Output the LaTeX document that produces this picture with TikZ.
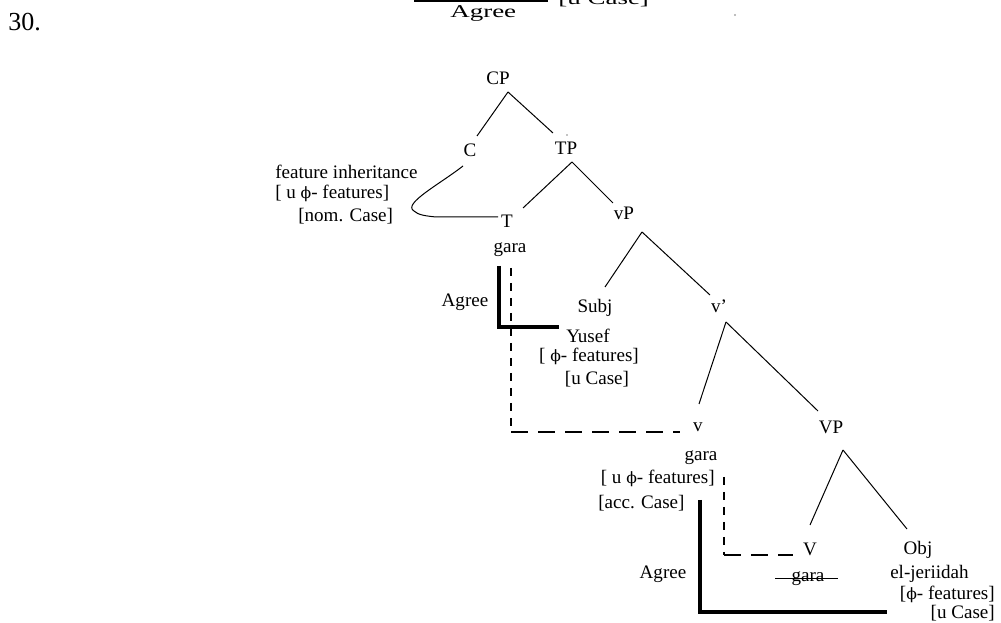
\documentclass[tikz,border=0pt]{standalone}
\usepackage{fontspec}
\setmainfont{Liberation Serif}
\newfontfamily\phifont{DejaVu Serif}[Scale=0.82]
\newcommand{\fph}{{\phifont ϕ}}
\begin{document}
\begin{tikzpicture}[x=0.75pt,y=-0.75pt,
  lbl/.style={inner sep=0pt, font=\fontsize{14.3pt}{17pt}\selectfont},
  wide/.style={inner sep=0pt, font=\fontsize{13.5pt}{16pt}\selectfont},
  branch/.style={line width=0.75pt},
  agreeline/.style={line width=2.5pt},
  chainv/.style={line width=0.8pt, dash pattern=on 6pt off 5.25pt},
  chainh/.style={line width=0.8pt, dash pattern=on 12.75pt off 7.5pt}]
\useasboundingbox (0,0) rectangle (1001,623);
\clip (0,0) rectangle (1001,623);

% example number and the tail of the preceding figure
\node[inner sep=0pt, anchor=base west, font=\fontsize{19.5pt}{22pt}\selectfont] (num) at (8,31) {30.};
\node[wide, anchor=base west] (agreeTop) at (450,18) {\scalebox{1.5}[1]{Agree}};
\node[wide, anchor=base west] (caseTop) at (558,5) {\scalebox{1.5}[1]{[u Case]}};
\coordinate (topA) at (415,-3);
\coordinate (topB) at (548,1);
\draw[line width=1pt] (topA) |- (topB);
\fill[gray!70] (735,15) circle (1.1);

% tree labels
\node[lbl, anchor=base] (CP) at (498,85) {CP};
\node[lbl, anchor=base] (C) at (470,157) {C};
\node[lbl, anchor=base] (TP) at (566,155) {TP};
\node[lbl, anchor=base west] (finh) at (275,179) {feature inheritance};
\node[lbl, anchor=base west] (cfeat) at (275,199) {[ u \fph- features]};
\node[lbl, anchor=base west] (ccase) at (298,222) {[nom. Case]};
\node[lbl, anchor=base] (T) at (507,228) {T};
\node[lbl, anchor=base] (Tgara) at (510,253) {gara};
\node[lbl, anchor=base] (vP) at (624,220) {vP};
\node[lbl, anchor=base] (agree1) at (465,307) {Agree};
\node[lbl, anchor=base] (Subj) at (595,313) {Subj};
\node[lbl, anchor=base] (vbar) at (719,313) {v'};
\node[lbl, anchor=base] (Yusef) at (588,343) {Yusef};
\node[lbl, anchor=base] (sfeat) at (589,362) {[ \fph- features]};
\node[lbl, anchor=base] (scase) at (597,385) {[u Case]};
\node[lbl, anchor=base] (v) at (698,432) {v};
\node[lbl, anchor=base] (VP) at (831,434) {VP};
\node[lbl, anchor=base] (vgara) at (701,461) {gara};
\node[lbl, anchor=base east] (vfeat) at (715,484) {[ u \fph- features]};
\node[lbl, anchor=base west] (vcase) at (598,509) {[acc. Case]};
\node[lbl, anchor=base] (V) at (810,556) {V};
\node[lbl, anchor=base] (Obj) at (918,555) {Obj};
\node[lbl, anchor=base] (agree2) at (663,579) {Agree};
\node[lbl, anchor=base] (Vgara) at (808,582) {gara};
\node[lbl, anchor=base west] (objn) at (890,579) {el-jeriidah};
\node[lbl, anchor=base east] (ofeat) at (995,600) {[\fph- features]};
\node[lbl, anchor=base east] (ocase) at (995,619) {[u Case]};

% branch points
\coordinate (CPb) at (508,92);
\coordinate (Ct) at (477,136);
\coordinate (TPt) at (553,133);
\coordinate (TPb) at (572,162);
\coordinate (Tt) at (523,208);
\coordinate (vPt) at (613,203);
\coordinate (vPb) at (642,232);
\coordinate (Subjt) at (605,287);
\coordinate (vbart) at (710,295);
\coordinate (vbarb) at (726,322);
\coordinate (vt) at (699,404);
\coordinate (VPt) at (818,411);
\coordinate (VPb) at (843,450);
\coordinate (Vt) at (810,525);
\coordinate (Objt) at (907,529);
\fill (567,135) circle (0.7);

\draw[branch] (CPb) -- (Ct);
\draw[branch] (CPb) -- (TPt);
\draw[branch] (TPb) -- (Tt);
\draw[branch] (TPb) -- (vPt);
\draw[branch] (vPb) -- (Subjt);
\draw[branch] (vPb) -- (vbart);
\draw[branch] (vbarb) -- (vt);
\draw[branch] (vbarb) -- (VPt);
\draw[branch] (VPb) -- (Vt);
\draw[branch] (VPb) -- (Objt);

% feature inheritance from C to T
\coordinate (inhS) at (463,166);
\coordinate (inhE) at (498,217);
\draw[branch] (inhS) .. controls (440,184) and (402,204) .. (414,211)
  .. controls (418,215) and (426,216) .. (436,217) -- (inhE);

% Agree relations
\coordinate (ag1a) at (499,266);
\coordinate (ag1c) at (499,327);
\coordinate (ag1b) at (559,327);
\draw[agreeline] (ag1a) -- (ag1c) -- (ag1b);
\coordinate (ag2a) at (700,500);
\coordinate (ag2c) at (700,612);
\coordinate (ag2b) at (887,612);
\draw[agreeline] (ag2a) -- (ag2c) -- (ag2b);

% head movement chains
\coordinate (ch1a) at (511,268);
\coordinate (ch1c) at (511,432);
\coordinate (ch1b) at (680,432);
\draw[chainv] (ch1a) -- (ch1c);
\draw[chainh] (ch1c) -- (ch1b);
\coordinate (ch2a) at (724,477);
\coordinate (ch2c) at (724,555);
\coordinate (ch2b) at (793,555);
\draw[chainv] (ch2a) -- (ch2c);
\draw[chainh] (ch2c) -- (ch2b);

% deleted copy of the verb
\draw[line width=0.7pt] ([shift={(-33,-4)}]Vgara.base) -- ++(63,0);
\end{tikzpicture}
\end{document}
